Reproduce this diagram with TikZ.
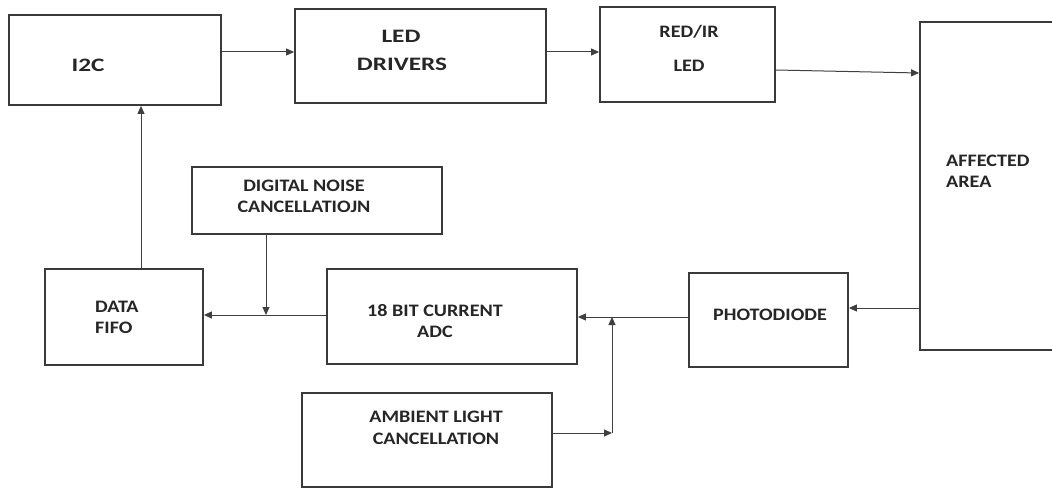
\documentclass[tikz,border=0pt]{standalone}
\usepackage{fontspec}
\setmainfont{Carlito}[FakeStretch=1.15]
\newfontfamily\widefont{Carlito}[FakeStretch=1.33]
\usetikzlibrary{arrows.meta,calc}
\definecolor{boxline}{HTML}{3A3A3A}
\definecolor{arrline}{HTML}{404040}
\definecolor{txt}{HTML}{262626}
\tikzset{
  blk/.style={draw=boxline, line width=1.8pt, rectangle, inner sep=0pt, fill=none},
  lbl/.style={anchor=base, inner sep=0pt, text=txt, font=\fontsize{17.5}{20}\selectfont\bfseries},
  lblw/.style={anchor=base, inner sep=0pt, text=txt, font=\widefont\fontsize{19}{22}\selectfont\bfseries},
  arr/.style={draw=arrline, line width=1pt, -{Triangle[length=8pt,width=7pt]}},
  plain/.style={draw=arrline, line width=1pt}
}
\begin{document}
\begin{tikzpicture}[x=1pt,y=-1pt]
\useasboundingbox (0,0) rectangle (1052,489);
\fill[white] (0,0) rectangle (1052,489);
\clip (0,0) rectangle (1052,489);

% boxes
\node[blk, minimum width=212pt, minimum height=90pt] (i2c) at (115,60) {};
\node[blk, minimum width=251pt, minimum height=94pt] (led) at (420.5,56) {};
\node[blk, minimum width=175pt, minimum height=95pt] (red) at (687.5,54.5) {};
\node[blk, minimum width=160pt, minimum height=328pt] (aff) at (1000,186) {};
\node[blk, minimum width=250pt, minimum height=67pt] (noise) at (317,200.5) {};
\node[blk, minimum width=158pt, minimum height=96pt] (fifo) at (124,317) {};
\node[blk, minimum width=250pt, minimum height=95pt] (adc) at (452,316.5) {};
\node[blk, minimum width=159pt, minimum height=94pt] (photo) at (768.5,320) {};
\node[blk, minimum width=250pt, minimum height=94pt] (amb) at (427,440) {};

% texts
\node[lblw] (ti2c) at (88,72) {I2C};
\node[lblw] (tled1) at (401,43) {LED};
\node[lblw] (tled2) at (402,71) {DRIVERS};
\node[lbl] (tred1) at (689,38) {RED/IR};
\node[lbl] (tred2) at (689,72) {LED};
\node[lbl, anchor=base west] (taff1) at (946,167) {AFFECTED};
\node[lbl, anchor=base west] (taff2) at (946,188) {AREA};
\node[lbl] (tnoise1) at (304,192) {DIGITAL NOISE};
\node[lbl] (tnoise2) at (304,213) {CANCELLATIOJN};
\node[lbl, anchor=base west] (tfifo1) at (95,312) {DATA};
\node[lbl, anchor=base west] (tfifo2) at (95,333) {FIFO};
\node[lbl] (tadc1) at (435,316) {18 BIT CURRENT};
\node[lbl] (tadc2) at (435,337) {ADC};
\node[lbl] (tphoto) at (770,320) {PHOTODIODE};
\node[lbl] (tamb1) at (436,422) {AMBIENT LIGHT};
\node[lbl] (tamb2) at (436,444) {CANCELLATION};

% helper coordinates
\coordinate (j) at (612,317);
\coordinate (jb) at (612,433);
\coordinate (nj) at (266,315);
\coordinate (vx) at (141,0);

% connectors
\draw[arr] ([yshift=8pt]i2c.east) -- ([yshift=8pt]i2c.east -| led.west);
\draw[arr] ([yshift=4pt]led.east) -- ([yshift=4pt]led.east -| red.west);
\draw[arr] ([yshift=-15.5pt]red.east) -- ([yshift=113pt]aff.west);
\draw[arr] ([yshift=-122pt]aff.west) -- ([yshift=-122pt]aff.west -| photo.east);
\draw[arr] ([yshift=3pt]photo.west) -- ([yshift=3pt]photo.west -| adc.east);
\draw[arr] ([yshift=7pt]amb.east) -- (jb);
\draw[arr] (jb) -- (j);
\draw[arr] ([yshift=1.5pt]adc.west) -- ([yshift=1.5pt]adc.west -| fifo.east);
\draw[arr] (noise.south -| nj) -- (nj);
\draw[arr] (vx |- fifo.north) -- (vx |- i2c.south);
\end{tikzpicture}
\end{document}
